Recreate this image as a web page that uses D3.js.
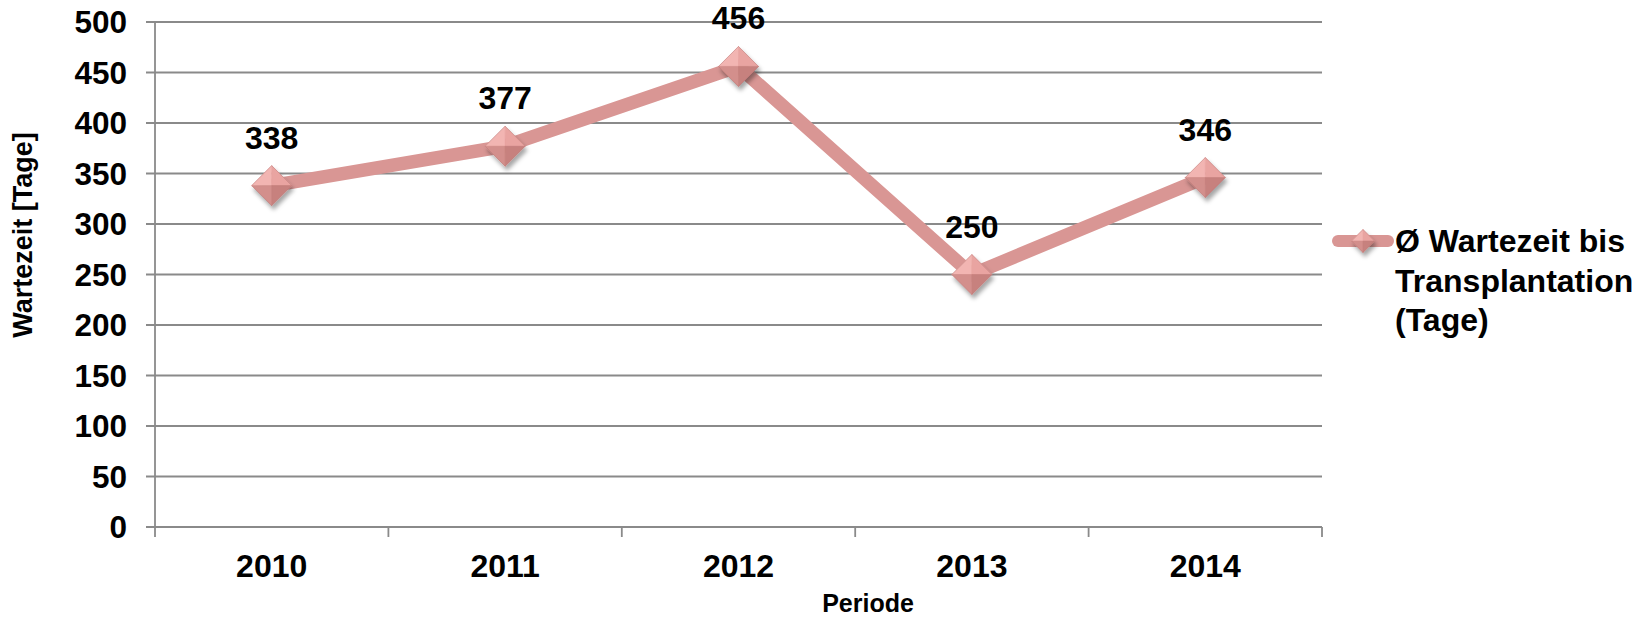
<!DOCTYPE html>
<html>
<head>
<meta charset="utf-8">
<script src="https://cdn.jsdelivr.net/npm/d3@7"></script>
<style>
  html, body { margin: 0; padding: 0; background: #fff; }
  svg { display: block; }
  text { font-family: "Liberation Sans", Arial, sans-serif; font-weight: bold; fill: #000; }
</style>
</head>
<body>
<svg id="chart" width="1649" height="619"></svg>
<script>
const categories = ["2010", "2011", "2012", "2013", "2014"];
const values = [338, 377, 456, 250, 346];
const yTicks = [0, 50, 100, 150, 200, 250, 300, 350, 400, 450, 500];
const seriesName = ["Ø Wartezeit bis", "Transplantation", "(Tage)"];
const xTitle = "Periode";
const yTitle = "Wartezeit [Tage]";

(function () {
const svg = d3.select("#chart");
const pL = 155, pR = 1322, pT = 22, pB = 527;
const lineColor = "#D99694";
const gridColor = "#8a8a8a";

const x = d3.scaleBand().domain(categories).range([pL, pR]).padding(0);
const y = d3.scaleLinear().domain([0, 500]).range([pB, pT]);

const defs = svg.append("defs");
const f = defs.append("filter").attr("id", "shadow").attr("x", "-50%").attr("y", "-50%").attr("width", "200%").attr("height", "200%");
f.append("feDropShadow").attr("dx", 2).attr("dy", 4).attr("stdDeviation", 2.2).attr("flood-color", "#000").attr("flood-opacity", 0.35);

// gridlines
svg.append("g").selectAll("line").data(yTicks).join("line")
  .attr("x1", pL - 9).attr("x2", pR)
  .attr("y1", d => y(d)).attr("y2", d => y(d))
  .attr("stroke", gridColor).attr("stroke-width", 1.8);

// y axis line
svg.append("line").attr("x1", pL).attr("x2", pL).attr("y1", pT).attr("y2", pB + 10)
  .attr("stroke", gridColor).attr("stroke-width", 1.8);

// x ticks at band boundaries
const bounds = categories.map(c => x(c)).concat([pR]);
svg.append("g").selectAll("line").data(bounds.slice(1)).join("line")
  .attr("x1", d => d).attr("x2", d => d).attr("y1", pB).attr("y2", pB + 10)
  .attr("stroke", gridColor).attr("stroke-width", 1.8);

// y tick labels
svg.append("g").selectAll("text").data(yTicks).join("text")
  .attr("x", 127).attr("y", d => y(d)).attr("dy", "0.36em")
  .attr("text-anchor", "end").style("font-size", "31.5px").text(d => d);

// x tick labels
svg.append("g").selectAll("text").data(categories).join("text")
  .attr("x", d => x(d) + x.bandwidth() / 2).attr("y", 577)
  .attr("text-anchor", "middle").style("font-size", "32px").text(d => d);

// axis titles
svg.append("text").attr("x", 868).attr("y", 612).attr("text-anchor", "middle")
  .style("font-size", "25px").text(xTitle);
svg.append("text").attr("transform", "translate(32,235) rotate(-90)").attr("text-anchor", "middle")
  .style("font-size", "27px").text(yTitle);

// line
const pts = categories.map((c, i) => [x(c) + x.bandwidth() / 2, y(values[i])]);
svg.append("path").attr("d", d3.line()(pts))
  .attr("fill", "none").attr("stroke", lineColor).attr("stroke-width", 13.5).attr("stroke-linejoin", "miter");

function diamond(g, cx, cy, r) {
  const grp = g.append("g").attr("transform", `translate(${cx},${cy})`).attr("filter", "url(#shadow)");
  const facets = [
    { p: [[0, -r], [-r, 0], [0, 0]], c: "#f2b5b2" },
    { p: [[0, -r], [r, 0], [0, 0]], c: "#e9a4a1" },
    { p: [[-r, 0], [0, r], [0, 0]], c: "#d38f8c" },
    { p: [[r, 0], [0, r], [0, 0]], c: "#c7817e" }
  ];
  grp.selectAll("path").data(facets).join("path")
    .attr("d", d => "M" + d.p.map(q => q.join(",")).join("L") + "Z")
    .attr("fill", d => d.c).attr("stroke", d => d.c).attr("stroke-width", 0.6);
  grp.append("path").attr("d", `M0,${-r}L${r},0L0,${r}L${-r},0Z`)
    .attr("fill", "none").attr("stroke", "#b87673").attr("stroke-width", 0.8).attr("opacity", 0.6);
}

const mg = svg.append("g");
pts.forEach(p => diamond(mg, p[0], p[1], 20));

// data labels
svg.append("g").selectAll("text").data(pts).join("text")
  .attr("x", d => d[0]).attr("y", d => d[1] - 37)
  .attr("text-anchor", "middle").style("font-size", "32px")
  .text((d, i) => values[i]);

// legend
const lg = svg.append("g");
lg.append("line").attr("x1", 1338).attr("x2", 1388).attr("y1", 241).attr("y2", 241)
  .attr("stroke", lineColor).attr("stroke-width", 12).attr("stroke-linecap", "round");
diamond(lg, 1363, 241, 11.5);
lg.selectAll("text").data(seriesName).join("text")
  .attr("x", 1395).attr("y", (d, i) => 252 + i * 39.5)
  .style("font-size", "32px").text(d => d);
})();
</script>
</body>
</html>
